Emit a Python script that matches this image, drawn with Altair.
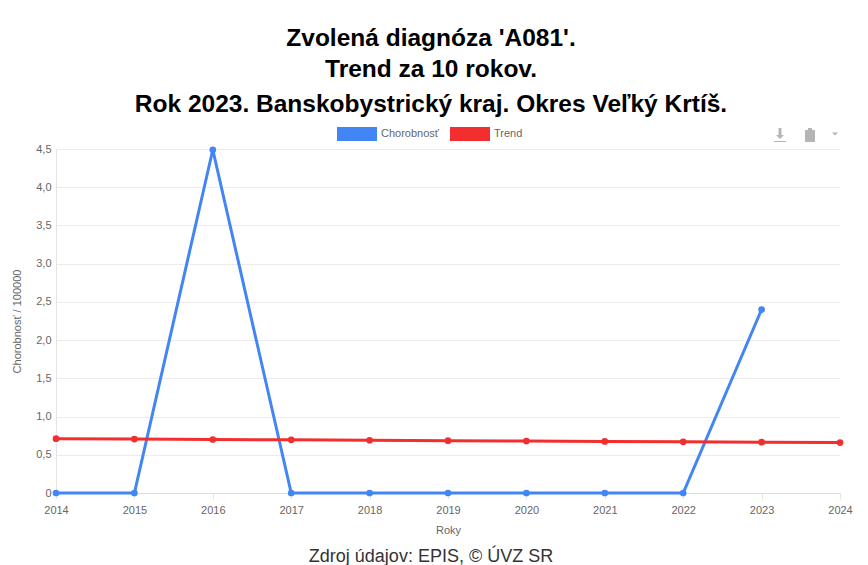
import altair as alt
import pandas as pd

years = list(range(2014, 2025))
chorobnost = [0, 0, 4.49, 0, 0, 0, 0, 0, 0, 2.4, None]
trend = [0.71, 0.705, 0.70, 0.695, 0.69, 0.685, 0.68, 0.675, 0.67, 0.665, 0.66]
series_names = ["Chorobnosť", "Trend"]
series_colors = ["#4285F4", "#F22E2E"]
title_lines = ["Zvolená diagnóza 'A081'.", "Trend za 10 rokov.", "Rok 2023. Banskobystrický kraj. Okres Veľký Krtíš."]
source = "Zdroj údajov: EPIS, © ÚVZ SR"
y_ticks = [0, 0.5, 1, 1.5, 2, 2.5, 3, 3.5, 4, 4.5]

df = pd.DataFrame(
    [{"rok": y, "serie": series_names[0], "v": v} for y, v in zip(years, chorobnost) if v is not None]
    + [{"rok": y, "serie": series_names[1], "v": v} for y, v in zip(years, trend)]
)

x = alt.X("rok:Q", scale=alt.Scale(domain=[2014, 2024], nice=False, zero=False),
          axis=alt.Axis(values=years, format="d", title="Roky", titleFontSize=11, titleFontWeight="normal",
                        titleColor="#666666", titlePadding=9, labelColor="#666666", labelFontSize=11,
                        labelPadding=5, labelFont="Liberation Sans", titleFont="Liberation Sans",
                        tickColor="#e4e4e4", tickSize=6, domainColor="#dddddd", grid=False, labelOverlap=False,
                        labelFlush=False))
y = alt.Y("v:Q", scale=alt.Scale(domain=[0, 4.5], nice=False),
          axis=alt.Axis(values=y_ticks, title="Chorobnosť / 100000", titleFontSize=11, titleFontWeight="normal",
                        titleColor="#666666", titlePadding=13, labelColor="#666666", labelFontSize=11,
                        labelPadding=5, labelFont="Liberation Sans", titleFont="Liberation Sans",
                        tickSize=0, domainColor="#e4e4e4", gridColor="#ebebeb", grid=True,
                        labelExpr="datum.value == 0 ? '0' : replace(format(datum.value, '.1f'), '.', ',')"))
color = alt.Color("serie:N", scale=alt.Scale(domain=series_names, range=series_colors),
                  legend=alt.Legend(orient="none", legendX=281, legendY=-35, direction="horizontal", title=None,
                                    symbolType="M-1,-0.35H1V0.35H-1Z", symbolSize=1600, symbolStrokeWidth=0,
                                    symbolOpacity=1, labelFontSize=11, labelColor="#666666", labelOffset=4,
                                    labelFont="Liberation Sans", columnPadding=11, padding=0))

lines = alt.Chart(df).mark_line(strokeWidth=3, clip=False).encode(x=x, y=y, color=color)
points = alt.Chart(df).mark_circle(size=45, opacity=1).encode(x=x, y=y, color=alt.Color("serie:N", legend=None, scale=alt.Scale(domain=series_names, range=series_colors)))

layers = [lines, points]
for text_line, py in zip(title_lines, [-110, -79, -44]):
    layers.append(alt.Chart(pd.DataFrame({"t": [text_line]})).mark_text(
        fontSize=24.5, fontWeight="bold", font="Liberation Sans", color="#000000", align="center", baseline="middle"
    ).encode(text="t:N", x=alt.value(375), y=alt.value(py)))
layers.append(alt.Chart(pd.DataFrame({"t": [source]})).mark_text(
    fontSize=18, font="Liberation Sans", color="#333333", align="center", baseline="middle"
).encode(text="t:N", x=alt.value(375), y=alt.value(408)))

icons = [
    ("M-6,6H6V7H-6ZM-1.5,-7H1.5V0H4L0,4L-4,0H-1.5Z", 724, -14),
    ("M-5,-5H-2V-7H2V-5H5V7H-5Z", 754, -14),
    ("M-3,-1.5H3L0,1.5Z", 779, -15),
]
for path, px, py in icons:
    layers.append(alt.Chart(pd.DataFrame({"a": [1]})).mark_point(
        shape=path, filled=True, size=4, color="#b5b5b5", opacity=1
    ).encode(x=alt.value(px), y=alt.value(py)))

chart = alt.layer(*layers).properties(
    width=784, height=344,
    padding={"left": 48, "top": 141, "right": 20, "bottom": 72},
    autosize=alt.AutoSizeParams(type="none"),
).configure_view(stroke=None)

chart.save("out.html", embed_options={"renderer": "svg", "actions": False})
